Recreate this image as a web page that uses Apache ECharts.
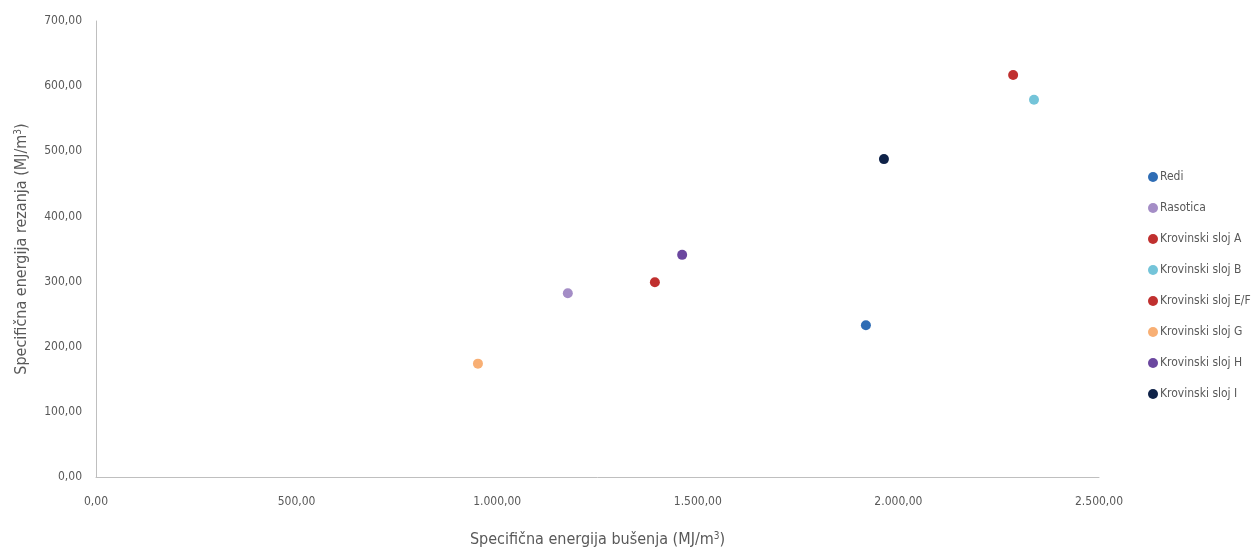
<!DOCTYPE html>
<html lang="hr">
<head>
<meta charset="UTF-8">
<title>Specifična energija</title>
<script src="https://cdn.jsdelivr.net/npm/echarts@6/dist/echarts.min.js"></script>
<style>
  html, body { margin: 0; padding: 0; background: #fff; }
  #chart { width: 1260px; height: 548px; }
</style>
</head>
<body>
<div id="chart"></div>
<script>
// data
const seriesNames = ['Redi', 'Rasotica', 'Krovinski sloj A', 'Krovinski sloj B',
  'Krovinski sloj E/F', 'Krovinski sloj G', 'Krovinski sloj H', 'Krovinski sloj I'];
const drillingEnergy = [1919, 1176, 2286, 2338, 1393, 952, 1461, 1964];
const cuttingEnergy = [233, 282, 617, 579, 299, 174, 341, 488];
const colors = ['#2F6DB5', '#A48DC6', '#C0302F', '#74C4D9', '#C0302F', '#F8AF74', '#6B479F', '#0F2248'];

const font = '"Liberation Sans Narrow", "DejaVu Sans Condensed", "Liberation Sans", sans-serif';
const labelColor = '#595959';

// 1.000,00 style numbers
function fmt(v) {
  const parts = v.toFixed(2).split('.');
  parts[0] = parts[0].replace(/\B(?=(\d{3})+(?!\d))/g, '.');
  return parts.join(',');
}

const series = seriesNames.map((name, i) => ({
  name: name,
  type: 'scatter',
  symbolSize: 10,
  itemStyle: { color: colors[i], opacity: 1 },
  data: [[drillingEnergy[i], cuttingEnergy[i]]]
}));

const chart = echarts.init(document.getElementById('chart'), null, { renderer: 'canvas' });
chart.setOption({
  animation: false,
  backgroundColor: '#fff',
  grid: { left: 96, right: 161, top: 21, bottom: 71, containLabel: false, outerBoundsMode: 'none' },
  legend: {
    orient: 'vertical',
    left: 1143,
    top: 166,
    itemWidth: 10,
    itemHeight: 10,
    itemGap: 19,
    icon: 'circle',
    textStyle: { fontFamily: font, fontSize: 12, color: labelColor, padding: [0, 0, 0, -3] },
    data: seriesNames.map((n, i) => ({ name: n, itemStyle: { color: colors[i] } }))
  },
  xAxis: {
    type: 'value',
    min: 0,
    max: 2500,
    interval: 500,
    name: 'Specifična energija bušenja (MJ/m{sup|3})',
    nameLocation: 'middle',
    nameGap: 54,
    nameTextStyle: {
      fontFamily: font, fontSize: 16, color: labelColor,
      rich: { sup: { fontFamily: font, fontSize: 10, color: labelColor, verticalAlign: 'top', padding: [0, 0, 8, 0] } }
    },
    axisLine: { show: true, lineStyle: { color: '#BFBFBF', width: 1 } },
    axisTick: { show: false },
    splitLine: { show: false },
    axisLabel: { formatter: fmt, fontFamily: font, fontSize: 12, color: labelColor, margin: 19 }
  },
  yAxis: {
    type: 'value',
    min: 0,
    max: 700,
    interval: 100,
    name: 'Specifična energija rezanja (MJ/m{sup|3})',
    nameLocation: 'middle',
    nameGap: 65,
    nameTextStyle: {
      fontFamily: font, fontSize: 16, color: labelColor,
      rich: { sup: { fontFamily: font, fontSize: 10, color: labelColor, verticalAlign: 'top', padding: [0, 0, 8, 0] } }
    },
    axisLine: { show: true, lineStyle: { color: '#BFBFBF', width: 1 } },
    axisTick: { show: false },
    splitLine: { show: false },
    axisLabel: { formatter: fmt, fontFamily: font, fontSize: 12, color: labelColor, margin: 14 }
  },
  series: series
});
</script>
</body>
</html>
